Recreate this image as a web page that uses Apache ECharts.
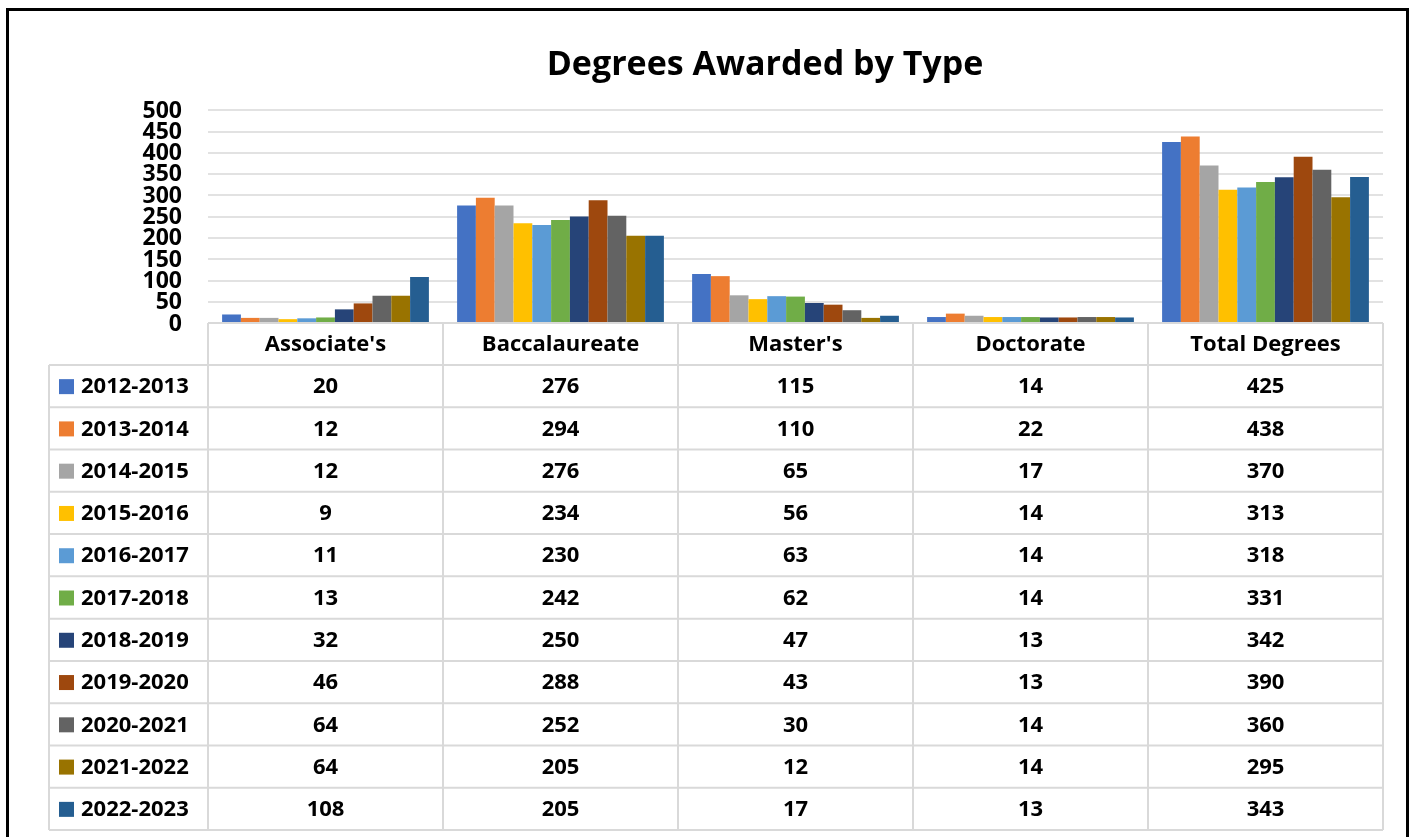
<!DOCTYPE html>
<html>
<head>
<meta charset="utf-8">
<script src="https://cdn.jsdelivr.net/npm/echarts@6/dist/echarts.min.js"></script>
<style>
html,body{margin:0;padding:0;background:#fff;}
#c{width:1415px;height:837px;}
</style>
</head>
<body>
<div id="c"></div>
<script>
// ---- data ----
const categories = ["Associate's", "Baccalaureate", "Master's", "Doctorate", "Total Degrees"];
const years = ['2012-2013','2013-2014','2014-2015','2015-2016','2016-2017','2017-2018','2018-2019','2019-2020','2020-2021','2021-2022','2022-2023'];
const y2012_2013 = [20, 276, 115, 14, 425];
const y2013_2014 = [12, 294, 110, 22, 438];
const y2014_2015 = [12, 276, 65, 17, 370];
const y2015_2016 = [9, 234, 56, 14, 313];
const y2016_2017 = [11, 230, 63, 14, 318];
const y2017_2018 = [13, 242, 62, 14, 331];
const y2018_2019 = [32, 250, 47, 13, 342];
const y2019_2020 = [46, 288, 43, 13, 390];
const y2020_2021 = [64, 252, 30, 14, 360];
const y2021_2022 = [64, 205, 12, 14, 295];
const y2022_2023 = [108, 205, 17, 13, 343];
const seriesValues = [y2012_2013, y2013_2014, y2014_2015, y2015_2016, y2016_2017, y2017_2018, y2018_2019, y2019_2020, y2020_2021, y2021_2022, y2022_2023];
const colors = ['#4472C4','#ED7D31','#A5A5A5','#FFC000','#5B9BD5','#70AD47','#264478','#9E480E','#636363','#997300','#255E91'];
const yTicks = {min: 0, max: 500, interval: 50};
const yTickLabels = [0, 50, 100, 150, 200, 250, 300, 350, 400, 450, 500];

// ---- layout ----
const FONT = '"Open Sans", Lato, sans-serif';
const gridL = 208, gridR = 1383, gridT = 110, gridB = 323;
const tableL = 49, headerB = 365, tableB = 830;
const lineColor = '#d9d9d9';

const chart = echarts.init(document.getElementById('c'));
chart.setOption({
  animation: false,
  color: colors,
  title: {
    text: 'Degrees Awarded by Type',
    left: 760,
    textAlign: 'center',
    top: 43,
    textStyle: {fontFamily: FONT, fontWeight: 'bold', fontSize: 34, color: '#000'}
  },
  grid: {left: gridL, right: 1415 - gridR, top: gridT, bottom: 837 - gridB, containLabel: false},
  xAxis: {
    type: 'category',
    data: categories,
    axisLine: {show: false},
    axisTick: {show: false},
    axisLabel: {show: false},
    splitLine: {show: false}
  },
  yAxis: {
    type: 'value',
    min: yTicks.min, max: yTicks.max, interval: yTicks.interval,
    axisLine: {show: false},
    axisTick: {show: false},
    axisLabel: {show: false},
    splitLine: {lineStyle: {color: lineColor, width: 1.5}}
  },
  series: years.map((y, i) => ({
    name: y,
    type: 'bar',
    data: seriesValues[i],
    barGap: '0%',
    barCategoryGap: '12%',
    itemStyle: {color: colors[i]}
  }))
});

// ---- y tick labels + data table drawn below the plot ----
function buildTable() {
  const g = [];
  // y-axis labels (placed through the axis scale; Excel lets them overlap tightly)
  yTickLabels.forEach(v => {
    const py = chart.convertToPixel({yAxisIndex: 0}, v);
    g.push({type: 'text', x: gridL - 26, y: py + 1,
      style: {text: String(v), fill: '#000', font: 'bold 23px ' + FONT, textAlign: 'right', textVerticalAlign: 'middle'}, z: 11});
  });
  const colEdges = [];
  const colCenters = categories.map((c, i) => chart.convertToPixel({xAxisIndex: 0}, i));
  const colW = (gridR - gridL) / categories.length;
  for (let i = 0; i <= categories.length; i++) colEdges.push(gridL + i * colW);
  const rowH = (tableB - headerB) / years.length;
  const ls = {stroke: lineColor, lineWidth: 2};
  const tf = 'bold 22px ' + FONT;
  g.push({type: 'line', shape: {x1: gridL, y1: gridB, x2: gridR, y2: gridB}, style: ls, z: 10});
  for (let r = 0; r <= years.length; r++) {
    const y = headerB + r * rowH;
    g.push({type: 'line', shape: {x1: tableL, y1: y, x2: gridR, y2: y}, style: ls, z: 10});
  }
  g.push({type: 'line', shape: {x1: tableL, y1: headerB, x2: tableL, y2: tableB}, style: ls, z: 10});
  colEdges.forEach(x => g.push({type: 'line', shape: {x1: x, y1: gridB, x2: x, y2: tableB}, style: ls, z: 10}));
  categories.forEach((c, i) => g.push({
    type: 'text', x: colCenters[i], y: (gridB + headerB) / 2 + 1,
    style: {text: c, fill: '#000', font: tf, textAlign: 'center', textVerticalAlign: 'middle'}, z: 11
  }));
  years.forEach((yr, r) => {
    const cy = headerB + (r + 0.5) * rowH + 1;
    g.push({type: 'rect', shape: {x: 59, y: cy - 8, width: 15, height: 15}, style: {fill: colors[r]}, z: 11});
    g.push({type: 'text', x: 81, y: cy,
      style: {text: yr, fill: '#000', font: tf, textAlign: 'left', textVerticalAlign: 'middle'}, z: 11});
    seriesValues[r].forEach((v, i) => g.push({
      type: 'text', x: colCenters[i], y: cy,
      style: {text: String(v), fill: '#000', font: tf, textAlign: 'center', textVerticalAlign: 'middle'}, z: 11
    }));
  });
  g.push({type: 'rect', shape: {x: 7.5, y: 9.5, width: 1400, height: 845}, style: {fill: 'none', stroke: '#000', lineWidth: 3}, z: 12});
  chart.setOption({graphic: g});
}
buildTable();
</script>
</body>
</html>
